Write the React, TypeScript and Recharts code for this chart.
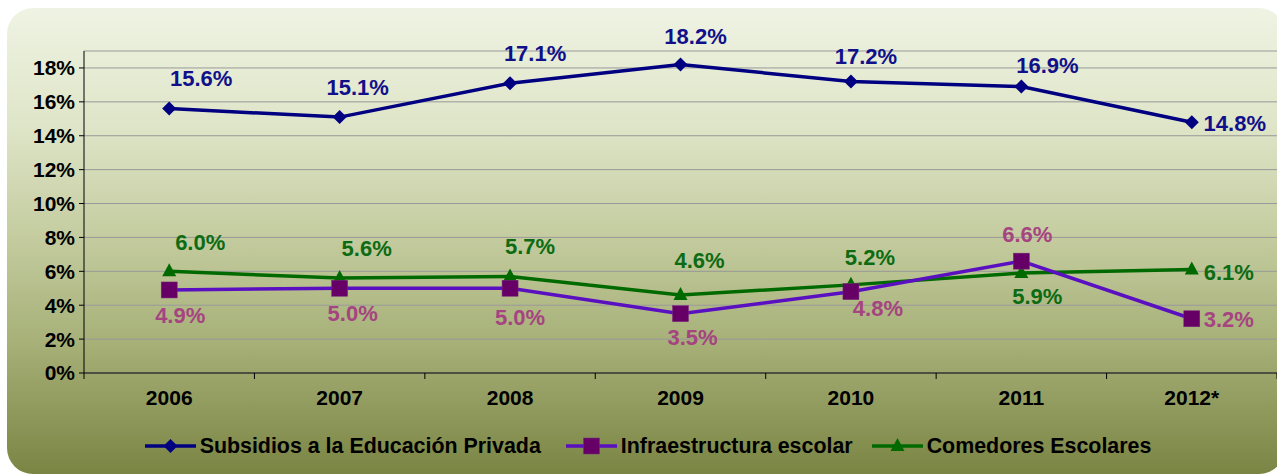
import React from "react";
import {
  LineChart,
  Line,
  XAxis,
  YAxis,
  CartesianGrid,
  Legend,
  LabelList,
} from "recharts";

const years = ["2006", "2007", "2008", "2009", "2010", "2011", "2012*"];
const subsidios = [15.6, 15.1, 17.1, 18.2, 17.2, 16.9, 14.8];
const infraestructura = [4.9, 5.0, 5.0, 3.5, 4.8, 6.6, 3.2];
const comedores = [6.0, 5.6, 5.7, 4.6, 5.2, 5.9, 6.1];
const yTicks = [0, 2, 4, 6, 8, 10, 12, 14, 16, 18];

// label placement next to each point (dx, dy), as in the original
const subsLabelOffsets = [[32, -30], [18, -30], [25, -30], [15, -28], [15, -25], [26, -21], [43, 1]];
const infraLabelOffsets = [[11, 26], [13, 25], [10, 29], [12, 24], [27, 17], [6, -27], [37, 1]];
const comedLabelOffsets = [[31, -29], [27, -30], [20, -30], [19, -35], [19, -27], [16, 23], [37, 3]];

const data = years.map((year, i) => ({
  year,
  pos: i + 0.5,
  subsidios: subsidios[i],
  infraestructura: infraestructura[i],
  comedores: comedores[i],
}));

const xTicks = years.flatMap((_, i) => [i, i + 0.5]).concat(years.length);

const FONT = '"Liberation Sans", Arial, sans-serif';

const NAVY = "#000080";
const PURPLE_LINE = "#5a0fc0";
const PURPLE_MARK = "#660066";
const GREEN = "#006a00";

const Diamond = ({ cx, cy }: any) => (
  <polygon
    points={`${cx},${cy - 7} ${cx + 7},${cy} ${cx},${cy + 7} ${cx - 7},${cy}`}
    fill={NAVY}
  />
);
const Square = ({ cx, cy }: any) => (
  <rect x={cx - 8} y={cy - 8} width={16} height={16} fill={PURPLE_MARK} stroke="#7a2a7a" strokeWidth={0.5} />
);
const Triangle = ({ cx, cy }: any) => (
  <polygon points={`${cx},${cy - 8} ${cx + 7},${cy + 5} ${cx - 7},${cy + 5}`} fill={GREEN} />
);

const makeLabel = (offsets: number[][], color: string) => (props: any) => {
  const { x, y, value, index } = props;
  const [dx, dy] = offsets[index] || [0, -20];
  return (
    <text
      x={x + dx}
      y={y + dy}
      textAnchor="middle"
      dominantBaseline="central"
      fill={color}
      fontFamily={FONT}
      fontWeight="bold"
      fontSize={22}
    >
      {Number(value).toFixed(1)}%
    </text>
  );
};

const XTick = ({ x, y, payload }: any) => {
  const v = payload.value;
  if (Number.isInteger(v)) {
    return <line x1={x} y1={y} x2={x} y2={y + 6} stroke="#000" strokeWidth={1} />;
  }
  return (
    <text x={x} y={y + 32} textAnchor="middle" fontFamily={FONT} fontWeight="bold" fontSize={21} fill="#000">
      {years[Math.floor(v)]}
    </text>
  );
};

const legendItems = [
  { name: "Subsidios a la Educación Privada", line: NAVY, Mark: Diamond },
  { name: "Infraestructura escolar", line: PURPLE_LINE, Mark: Square },
  { name: "Comedores Escolares", line: GREEN, Mark: Triangle },
];

const LegendContent = () => (
  <div
    style={{
      display: "flex",
      justifyContent: "center",
      alignItems: "center",
      height: 40,
      paddingLeft: 38,
      fontFamily: FONT,
      fontWeight: "bold",
      fontSize: 21.4,
      color: "#000",
    }}
  >
    {legendItems.map(({ name, line, Mark }, i) => (
      <div key={name} style={{ display: "flex", alignItems: "center", marginRight: i === 0 ? 25 : 19 }}>
        <svg width={51} height={20}>
          <line x1={0} y1={10} x2={51} y2={10} stroke={line} strokeWidth={3.5} />
          <Mark cx={25.5} cy={10} />
        </svg>
        <span style={{ marginLeft: 4 }}>{name}</span>
      </div>
    ))}
  </div>
);

export default function App() {
  return (
    <div style={{ position: "absolute", left: 0, top: 0, width: 1277, height: 474, overflow: "hidden", background: "#fff" }}>
      <div
        style={{
          position: "absolute",
          left: 7,
          top: 8,
          width: 1278,
          height: 466,
          borderRadius: 26,
          background:
            "linear-gradient(to bottom, #eff3e3 0%, #dfe5c8 25%, #c3cb9e 50%, #a6b077 72%, #8a9456 90%, #7a8443 100%)",
        }}
      />
      <div style={{ position: "absolute", left: 0, top: 0 }}>
        <LineChart width={1277} height={474} data={data} margin={{ top: 51, right: 0, bottom: 8, left: 0 }}>
          <CartesianGrid horizontal vertical={false} stroke="#999" strokeWidth={1} />
          <XAxis
            dataKey="pos"
            type="number"
            domain={[0, 7]}
            ticks={xTicks}
            interval={0}
            tickLine={false}
            tickSize={0}
            tickMargin={0}
            height={53}
            axisLine={{ stroke: "#000", strokeWidth: 1 }}
            tick={(p: any) => <XTick {...p} />}
          />
          <YAxis
            domain={[0, 19]}
            ticks={yTicks}
            width={84}
            tickSize={5}
            tickMargin={4}
            tickFormatter={(v) => `${v}%`}
            axisLine={{ stroke: "#000", strokeWidth: 1 }}
            tickLine={{ stroke: "#000" }}
            tick={{ fontSize: 21, fontWeight: "bold", fill: "#000", fontFamily: FONT }}
          />
          <Legend verticalAlign="bottom" height={40} content={() => <LegendContent />} />
          <Line
            dataKey="subsidios"
            stroke={NAVY}
            strokeWidth={3.5}
            isAnimationActive={false}
            dot={(p: any) => <Diamond key={`d${p.index}`} {...p} />}
          >
            <LabelList dataKey="subsidios" content={makeLabel(subsLabelOffsets, "#10108a")} />
          </Line>
          <Line
            dataKey="comedores"
            stroke={GREEN}
            strokeWidth={3.5}
            isAnimationActive={false}
            dot={(p: any) => <Triangle key={`t${p.index}`} {...p} />}
          >
            <LabelList dataKey="comedores" content={makeLabel(comedLabelOffsets, "#0d6b13")} />
          </Line>
          <Line
            dataKey="infraestructura"
            stroke={PURPLE_LINE}
            strokeWidth={3.5}
            isAnimationActive={false}
            dot={(p: any) => <Square key={`s${p.index}`} {...p} />}
          >
            <LabelList dataKey="infraestructura" content={makeLabel(infraLabelOffsets, "#a54480")} />
          </Line>
        </LineChart>
      </div>
    </div>
  );
}
